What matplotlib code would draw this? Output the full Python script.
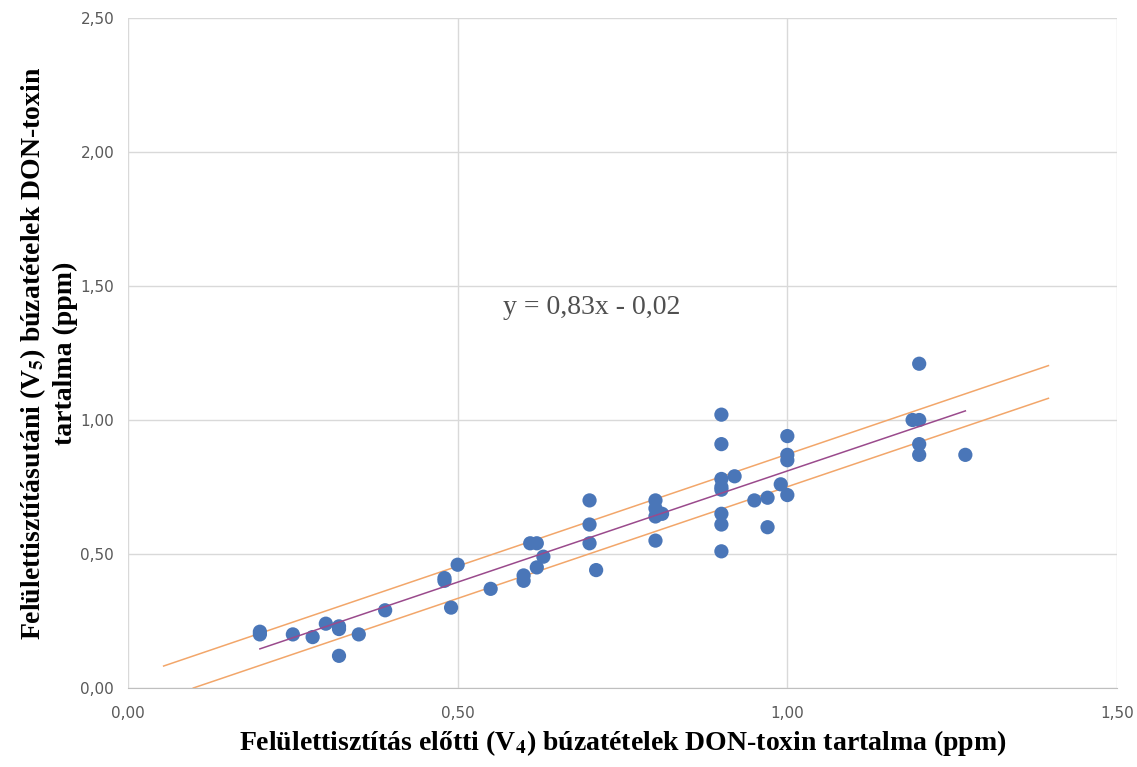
import matplotlib.pyplot as plt
import matplotlib.ticker as mticker

plt.rcParams['mathtext.fontset'] = 'stix'

# V4 (before cleaning) vs V5 (after cleaning), DON-toxin ppm
v4 = [0.20, 0.20, 0.25, 0.28, 0.30, 0.32, 0.32, 0.32, 0.35, 0.39,
      0.48, 0.48, 0.49, 0.50, 0.55, 0.60, 0.60, 0.61, 0.62, 0.62,
      0.63, 0.70, 0.70, 0.70, 0.71, 0.80, 0.80, 0.80, 0.80, 0.81,
      0.90, 0.90, 0.90, 0.90, 0.90, 0.90, 0.90, 0.90, 0.92, 0.95,
      0.97, 0.97, 0.99, 1.00, 1.00, 1.00, 1.00, 1.19, 1.20, 1.20,
      1.20, 1.20, 1.27]
v5 = [0.21, 0.20, 0.20, 0.19, 0.24, 0.23, 0.22, 0.12, 0.20, 0.29,
      0.40, 0.41, 0.30, 0.46, 0.37, 0.42, 0.40, 0.54, 0.54, 0.45,
      0.49, 0.70, 0.61, 0.54, 0.44, 0.70, 0.67, 0.64, 0.55, 0.65,
      1.02, 0.91, 0.78, 0.75, 0.74, 0.65, 0.61, 0.51, 0.79, 0.70,
      0.71, 0.60, 0.76, 0.94, 0.87, 0.85, 0.72, 1.00, 1.00, 1.21,
      0.91, 0.87, 0.87]

# trend line and the two band lines (end points)
trend_x = [0.20, 1.27]
trend_y = [0.146, 1.034]
upper_x = [0.054, 1.396]
upper_y = [0.082, 1.203]
lower_x = [0.099, 1.396]
lower_y = [0.0, 1.081]

xticks = [0.0, 0.5, 1.0, 1.5]
yticks = [0.0, 0.5, 1.0, 1.5, 2.0, 2.5]

fig = plt.figure(figsize=(11.37, 7.67), dpi=100)
ax = fig.add_axes([0.1126, 0.103, 0.8698, 0.8735])

ax.plot(upper_x, upper_y, color='#f2a66a', lw=1.1, zorder=2)
ax.plot(lower_x, lower_y, color='#f2a66a', lw=1.1, zorder=2)
ax.scatter(v4, v5, s=105, color='#4a76b8', edgecolors='none', zorder=3)
ax.plot(trend_x, trend_y, color='#9a4a8c', lw=1.1, zorder=4)

ax.set_xlim(0, 1.5)
ax.set_ylim(0, 2.5)
ax.set_xticks(xticks)
ax.set_yticks(yticks)
fmt = mticker.FuncFormatter(lambda v, p: f"{v:.2f}".replace('.', ','))
ax.xaxis.set_major_formatter(fmt)
ax.yaxis.set_major_formatter(fmt)
ax.tick_params(length=0, labelsize=11, labelcolor='#595959')
ax.tick_params(axis='x', pad=13)
ax.tick_params(axis='y', pad=10)
ax.grid(True, color='#d9d9d9', lw=1)
ax.set_axisbelow(True)
for s in ['top', 'right', 'left']:
    ax.spines[s].set_visible(False)
ax.spines['bottom'].set_color('#bfbfbf')

ax.text(0.704, 1.42, 'y = 0,83x - 0,02', fontsize=20, family='Liberation Serif',
        color='#505050', ha='center', va='center')

ax.set_xlabel('Felülettisztítás előtti (V$_\\mathbf{4}$) búzatételek DON-toxin tartalma (ppm)',
              fontsize=20, fontweight='bold', family='Liberation Serif', labelpad=5)
ax.set_ylabel('Felülettisztításutáni (V$_\\mathbf{5}$) búzatételek DON-toxin\ntartalma (ppm)',
              fontsize=20, fontweight='bold', family='Liberation Serif', labelpad=2,
              linespacing=1.25)

fig.savefig('out.png', dpi=100)
